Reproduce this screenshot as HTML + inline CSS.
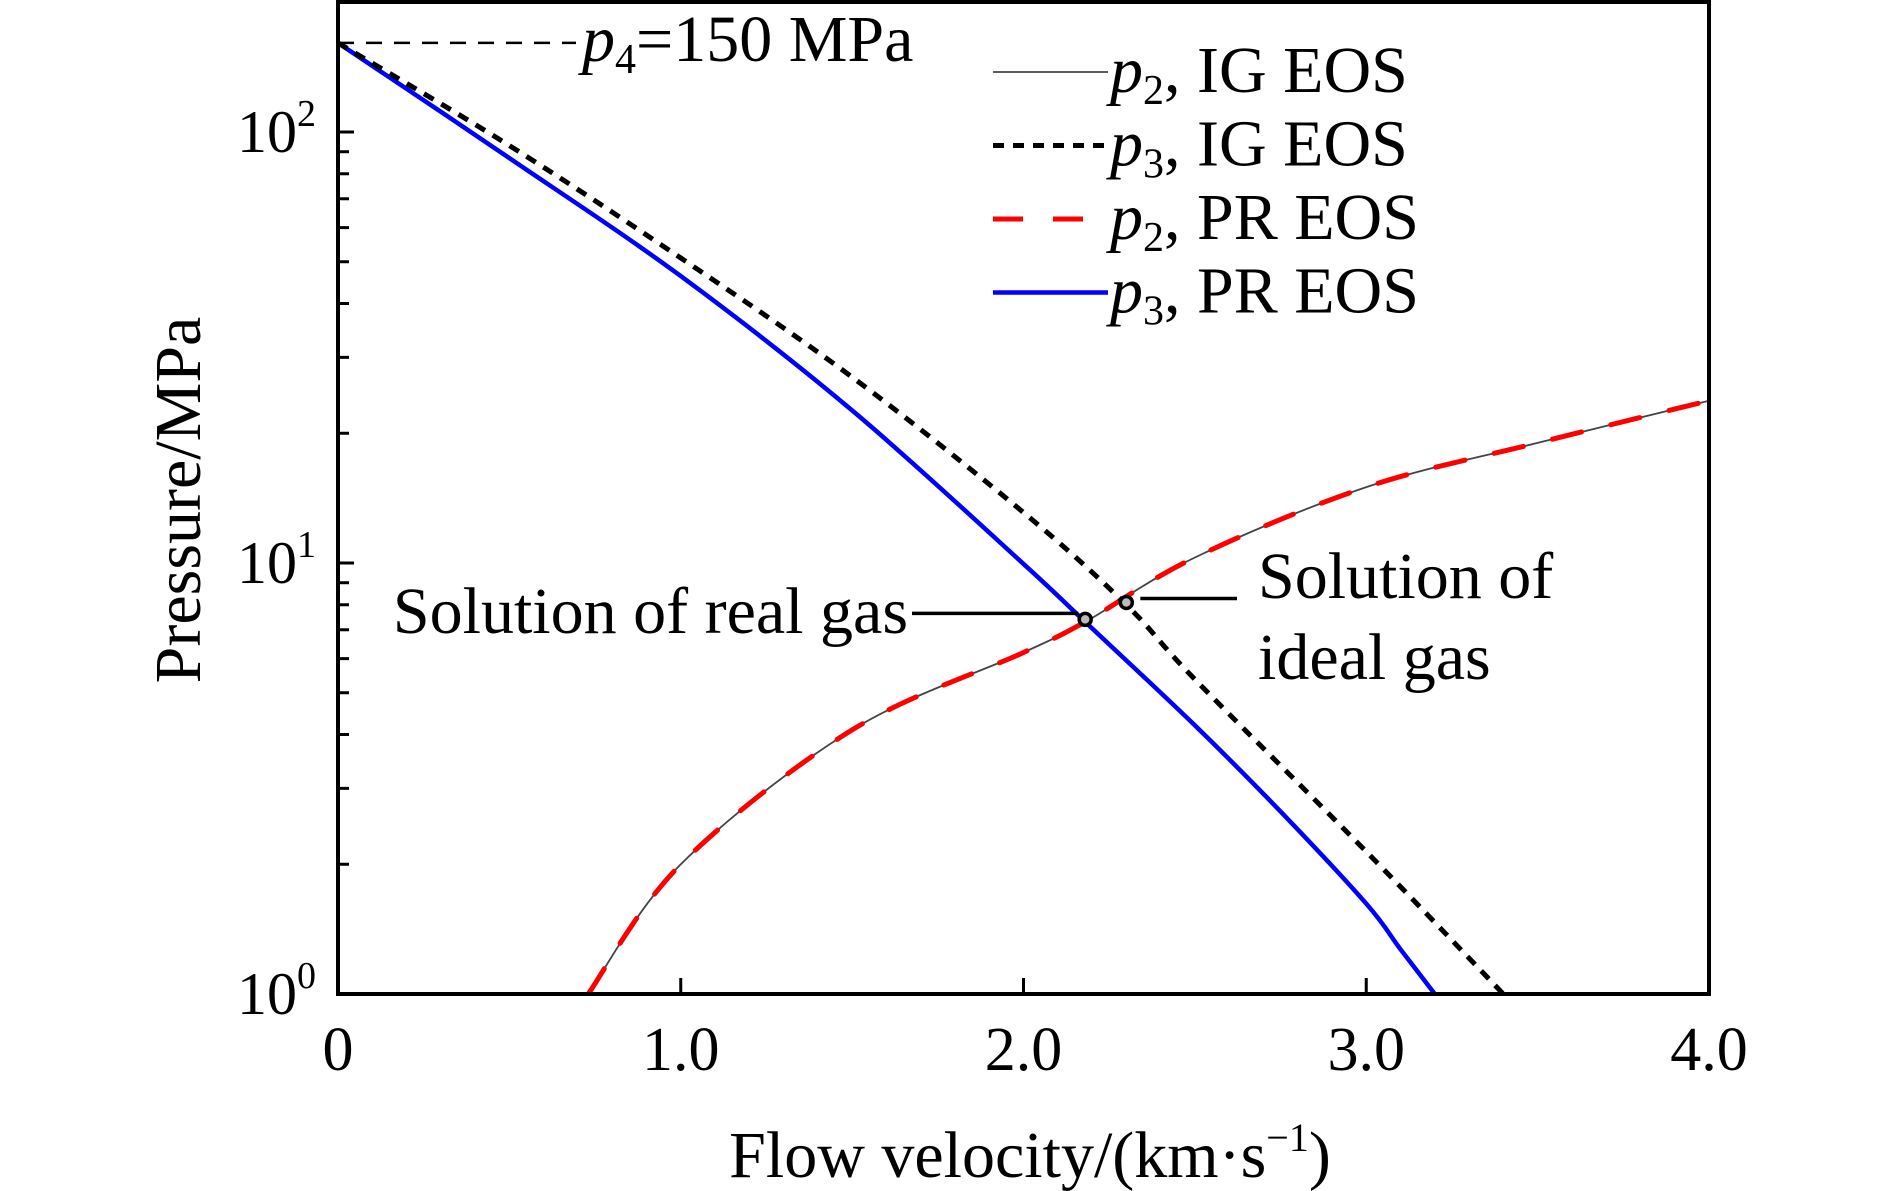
<!DOCTYPE html>
<html><head><meta charset="utf-8"><style>
body{margin:0;background:#fff}
svg{display:block;font-family:"Liberation Serif","Times New Roman",serif}
</style></head><body>
<svg id="chart" width="1890" height="1191" viewBox="0 0 1890 1191">
<g id="plot"></g>
<g id="axes"></g>
</svg>
<script>
const velocityTicks=[0,1,2,3,4];
const velocityTickLabels=["0","1.0","2.0","3.0","4.0"];
const pressureDecades=[0,1,2];
const p2Velocity=[0.73,1.0,1.5,2.0,2.18,2.5,3.0,3.5,4.0];
const p2Pressure=[1.0,2.0,4.1,6.2,7.3,10.3,15.0,19.0,23.8];
const p3PRVelocity=[0,0.5,1.0,1.5,2.0,2.18,2.5,2.75,3.0,3.1,3.2];
const p3PRPressure=[161,87,46.3,22.6,9.95,7.3,4.2,2.65,1.62,1.27,1.0];
const p3IGVelocity=[0,0.5,1.0,1.5,2.0,2.3,2.5,3.0,3.4];
const p3IGPressure=[161,93,51,27,13.1,8.0,5.37,2.14,1.0];
const p4Value=161;
const solutionReal=[2.18,7.4];
const solutionIdeal=[2.30,8.1];

const NS="http://www.w3.org/2000/svg";
const L=338,R=1709,T=2,B=994,DEC=431;
const xs=v=>L+v*(R-L)/4;
const ys=p=>B-Math.log10(p)*DEC;
function el(tag,attrs,parent,text){const e=document.createElementNS(NS,tag);for(const k in attrs)e.setAttribute(k,attrs[k]);if(text!==undefined)e.textContent=text;parent.appendChild(e);return e;}
const plot=document.getElementById('plot'),axes=document.getElementById('axes');
const clip=el('clipPath',{id:'clp'},plot);el('rect',{x:L,y:T,width:R-L,height:B-T},clip);
const g=el('g',{'clip-path':'url(#clp)'},plot);
function pathOf(vx,py){
 const P=vx.map((v,i)=>[xs(v),ys(py[i])]);
 let d='M'+P[0][0].toFixed(1)+','+P[0][1].toFixed(1);
 for(let i=0;i<P.length-1;i++){
  const p0=P[Math.max(0,i-1)],p1=P[i],p2=P[i+1],p3=P[Math.min(P.length-1,i+2)];
  const c1=[p1[0]+(p2[0]-p0[0])/6,p1[1]+(p2[1]-p0[1])/6];
  const c2=[p2[0]-(p3[0]-p1[0])/6,p2[1]-(p3[1]-p1[1])/6];
  d+='C'+c1.map(n=>n.toFixed(1)).join(',')+' '+c2.map(n=>n.toFixed(1)).join(',')+' '+p2[0].toFixed(1)+','+p2[1].toFixed(1);
 }
 return d;
}
let e=el('line',{x1:L,y1:ys(p4Value),x2:576,y2:ys(p4Value),stroke:'#000','stroke-width':2.5,'stroke-dasharray':'16 12'},plot);


e=el('text',{x:582,y:61,'font-size':66},plot);


e.innerHTML='<tspan font-style="italic">p</tspan><tspan font-size="42" dy="12">4</tspan><tspan dy="-12">=150 MPa</tspan>';
e=el('path',{d:pathOf(p2Velocity,p2Pressure),fill:'none',stroke:'#444','stroke-width':1.8},g);


e=el('path',{d:pathOf(p2Velocity,p2Pressure),fill:'none',stroke:'#f00','stroke-width':5,'stroke-dasharray':'30 30','stroke-linecap':'round'},g);


e=el('path',{d:pathOf(p3PRVelocity,p3PRPressure),fill:'none',stroke:'#00f','stroke-width':4.5},g);


e=el('path',{d:pathOf(p3IGVelocity,p3IGPressure),fill:'none',stroke:'#000','stroke-width':5,'stroke-dasharray':'11 9'},g);


const rx=xs(solutionReal[0]),ry=ys(solutionReal[1]),ix=xs(solutionIdeal[0]),iy=ys(solutionIdeal[1]);
e=el('line',{x1:912,y1:ry-6,x2:rx-7,y2:ry-6,stroke:'#000','stroke-width':3.5},plot);


e=el('line',{x1:ix+14,y1:iy-4,x2:1237,y2:iy-4,stroke:'#000','stroke-width':3.5},plot);


e=el('circle',{cx:rx,cy:ry,r:6,fill:'#bbb',stroke:'#000','stroke-width':3.5},plot);


e=el('circle',{cx:ix,cy:iy,r:6,fill:'#bbb',stroke:'#000','stroke-width':3.5},plot);


e=el('text',{x:908,y:633,'font-size':66,'text-anchor':'end'},plot,'Solution of real gas');


e=el('text',{x:1258,y:598,'font-size':66},plot,'Solution of');


e=el('text',{x:1258,y:679,'font-size':66},plot,'ideal gas');


e=el('rect',{x:L,y:T,width:R-L,height:B-T,fill:'none',stroke:'#000','stroke-width':4},axes);


velocityTicks.forEach((v,i)=>{
 if(i>0&&i<velocityTicks.length-1){const t=el('line',{x1:xs(v),y1:B,x2:xs(v),y2:B-16,stroke:'#000','stroke-width':3},axes);
 
 }
 const lb=el('text',{x:xs(v),y:1070,'font-size':62,'text-anchor':'middle'},axes,velocityTickLabels[i]);
 
 
});
pressureDecades.forEach(d=>{
 const y=ys(Math.pow(10,d));
 const lb=el('text',{x:316,y:y+20,'font-size':60,'text-anchor':'end'},axes);
 
 
 lb.innerHTML='10<tspan font-size="38" dy="-26">'+d+'</tspan>';
 if(d>0){const t=el('line',{x1:L,y1:y,x2:L+16,y2:y,stroke:'#000','stroke-width':3},axes);
 
 }
 for(let m=2;m<=9;m++){const py=ys(m*Math.pow(10,d));if(py<T+3)continue;
  const t=el('line',{x1:L,y1:py,x2:L+11,y2:py,stroke:'#000','stroke-width':3},axes);
  
  }
});
e=el('text',{x:1030,y:1177,'font-size':66,'text-anchor':'middle'},axes);


e.innerHTML='Flow velocity/(km·s<tspan font-size="40" dy="-26">−1</tspan><tspan dy="26">)</tspan>';
e=el('text',{x:0,y:0,'font-size':66,'text-anchor':'middle',transform:'translate(200,500) rotate(-90)'},axes,'Pressure/MPa');


const legSub=['2','3','2','3'],legEos=['IG EOS','IG EOS','PR EOS','PR EOS'];
const legStyles=[{stroke:'#444','stroke-width':1.8},{stroke:'#000','stroke-width':5,'stroke-dasharray':'11 9'},{stroke:'#f00','stroke-width':5,'stroke-dasharray':'30 30'},{stroke:'#00f','stroke-width':4.5}];
const leg=el('g',{},axes);


legSub.forEach((s,i)=>{
 const y=72+i*73.5;
 const ent=el('g',{},leg);
 
 
 el('line',Object.assign({x1:993,y1:y,x2:1108,y2:y},legStyles[i]),ent);
 const t=el('text',{x:1110,y:y+20,'font-size':66},ent);
 t.innerHTML='<tspan font-style="italic">p</tspan><tspan font-size="42" dy="12">'+s+'</tspan><tspan dy="-12">, '+legEos[i]+'</tspan>';
});
</script>
</body></html>
